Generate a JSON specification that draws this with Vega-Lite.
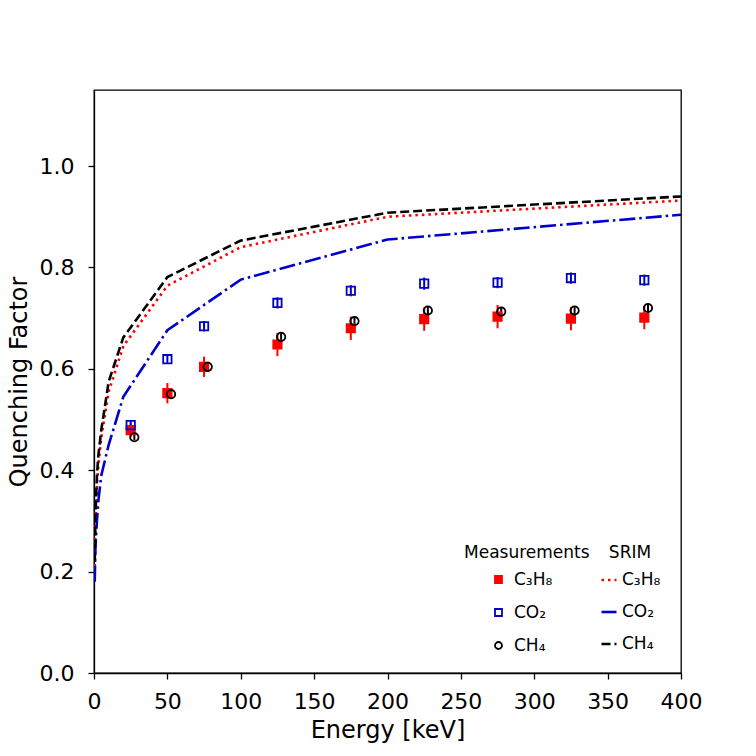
{
  "$schema": "https://vega.github.io/schema/vega-lite/v6.json",
  "width": 587,
  "height": 583,
  "autosize": {"type": "none"},
  "padding": {"left": 94, "top": 90, "right": 75, "bottom": 83},
  "background": "white",
  "config": {
    "font": "DejaVu Sans",
    "view": {"stroke": "#000", "strokeWidth": 1.3},
    "axis": {
      "domainColor": "#000", "domainWidth": 1.3,
      "tickColor": "#000", "tickWidth": 1.3, "tickSize": 6,
      "grid": false,
      "labelFont": "DejaVu Sans", "labelFontSize": 22, "labelColor": "#000",
      "titleFont": "DejaVu Sans", "titleFontSize": 24, "titleFontWeight": "normal", "titleColor": "#000"
    },
    "legend": {
      "titleFont": "DejaVu Sans", "titleFontSize": 17, "titleFontWeight": "normal", "titleColor": "#000",
      "labelFont": "DejaVu Sans", "labelFontSize": 17, "labelColor": "#000"
    }
  },
  "datasets": {
    "srim": [
      {"energy": 0.5, "gas": "C₃H₈", "qf": 0.21},
      {"energy": 1, "gas": "C₃H₈", "qf": 0.29},
      {"energy": 2, "gas": "C₃H₈", "qf": 0.37},
      {"energy": 3, "gas": "C₃H₈", "qf": 0.41},
      {"energy": 5, "gas": "C₃H₈", "qf": 0.465},
      {"energy": 10, "gas": "C₃H₈", "qf": 0.555},
      {"energy": 20, "gas": "C₃H₈", "qf": 0.645},
      {"energy": 50, "gas": "C₃H₈", "qf": 0.764},
      {"energy": 100, "gas": "C₃H₈", "qf": 0.84},
      {"energy": 200, "gas": "C₃H₈", "qf": 0.9},
      {"energy": 400, "gas": "C₃H₈", "qf": 0.932},
      {"energy": 0.5, "gas": "CO₂", "qf": 0.18},
      {"energy": 1, "gas": "CO₂", "qf": 0.25},
      {"energy": 2, "gas": "CO₂", "qf": 0.3},
      {"energy": 3, "gas": "CO₂", "qf": 0.34},
      {"energy": 5, "gas": "CO₂", "qf": 0.39},
      {"energy": 10, "gas": "CO₂", "qf": 0.45},
      {"energy": 20, "gas": "CO₂", "qf": 0.545},
      {"energy": 50, "gas": "CO₂", "qf": 0.676},
      {"energy": 100, "gas": "CO₂", "qf": 0.776},
      {"energy": 200, "gas": "CO₂", "qf": 0.855},
      {"energy": 400, "gas": "CO₂", "qf": 0.904},
      {"energy": 0.5, "gas": "CH₄", "qf": 0.22},
      {"energy": 1, "gas": "CH₄", "qf": 0.31},
      {"energy": 2, "gas": "CH₄", "qf": 0.39},
      {"energy": 3, "gas": "CH₄", "qf": 0.43},
      {"energy": 5, "gas": "CH₄", "qf": 0.48},
      {"energy": 10, "gas": "CH₄", "qf": 0.575},
      {"energy": 20, "gas": "CH₄", "qf": 0.662},
      {"energy": 50, "gas": "CH₄", "qf": 0.781},
      {"energy": 100, "gas": "CH₄", "qf": 0.853},
      {"energy": 200, "gas": "CH₄", "qf": 0.908},
      {"energy": 400, "gas": "CH₄", "qf": 0.94}
    ],
    "meas": [
      {"energy": 25, "gas": "C₃H₈", "qf": 0.479, "lo": 0.465, "hi": 0.493},
      {"energy": 50, "gas": "C₃H₈", "qf": 0.552, "lo": 0.532, "hi": 0.572},
      {"energy": 75, "gas": "C₃H₈", "qf": 0.604, "lo": 0.584, "hi": 0.624},
      {"energy": 125, "gas": "C₃H₈", "qf": 0.648, "lo": 0.625, "hi": 0.671},
      {"energy": 175, "gas": "C₃H₈", "qf": 0.68, "lo": 0.657, "hi": 0.703},
      {"energy": 225, "gas": "C₃H₈", "qf": 0.698, "lo": 0.675, "hi": 0.721},
      {"energy": 275, "gas": "C₃H₈", "qf": 0.703, "lo": 0.68, "hi": 0.726},
      {"energy": 325, "gas": "C₃H₈", "qf": 0.699, "lo": 0.676, "hi": 0.722},
      {"energy": 375, "gas": "C₃H₈", "qf": 0.701, "lo": 0.678, "hi": 0.724},
      {"energy": 25, "gas": "CO₂", "qf": 0.489, "lo": 0.481, "hi": 0.497},
      {"energy": 50, "gas": "CO₂", "qf": 0.619, "lo": 0.61, "hi": 0.628},
      {"energy": 75, "gas": "CO₂", "qf": 0.684, "lo": 0.674, "hi": 0.694},
      {"energy": 125, "gas": "CO₂", "qf": 0.73, "lo": 0.719, "hi": 0.741},
      {"energy": 175, "gas": "CO₂", "qf": 0.754, "lo": 0.743, "hi": 0.765},
      {"energy": 225, "gas": "CO₂", "qf": 0.768, "lo": 0.756, "hi": 0.78},
      {"energy": 275, "gas": "CO₂", "qf": 0.77, "lo": 0.759, "hi": 0.781},
      {"energy": 325, "gas": "CO₂", "qf": 0.779, "lo": 0.768, "hi": 0.79},
      {"energy": 375, "gas": "CO₂", "qf": 0.775, "lo": 0.764, "hi": 0.786},
      {"energy": 27.5, "gas": "CH₄", "qf": 0.465, "lo": 0.459, "hi": 0.471},
      {"energy": 52.5, "gas": "CH₄", "qf": 0.55, "lo": 0.543, "hi": 0.557},
      {"energy": 77.5, "gas": "CH₄", "qf": 0.604, "lo": 0.597, "hi": 0.611},
      {"energy": 127.5, "gas": "CH₄", "qf": 0.663, "lo": 0.655, "hi": 0.671},
      {"energy": 177.5, "gas": "CH₄", "qf": 0.694, "lo": 0.686, "hi": 0.702},
      {"energy": 227.5, "gas": "CH₄", "qf": 0.715, "lo": 0.707, "hi": 0.723},
      {"energy": 277.5, "gas": "CH₄", "qf": 0.713, "lo": 0.705, "hi": 0.721},
      {"energy": 327.5, "gas": "CH₄", "qf": 0.715, "lo": 0.707, "hi": 0.723},
      {"energy": 377.5, "gas": "CH₄", "qf": 0.72, "lo": 0.712, "hi": 0.728}
    ]
  },
  "encoding": {
    "x": {
      "field": "energy", "type": "quantitative",
      "scale": {"domain": [0, 400], "nice": false},
      "axis": {"title": "Energy [keV]", "values": [0, 50, 100, 150, 200, 250, 300, 350, 400], "labelPadding": 12, "titlePadding": 6, "labelFlush": false}
    },
    "y": {
      "field": "qf", "type": "quantitative",
      "scale": {"domain": [0, 1.15], "nice": false, "zero": false},
      "axis": {"title": "Quenching Factor", "values": [0, 0.2, 0.4, 0.6, 0.8, 1.0], "format": ".1f", "labelPadding": 14, "titlePadding": 8, "labelFlush": false}
    }
  },
  "layer": [
    {
      "data": {"name": "srim"},
      "mark": {"type": "line", "strokeWidth": 2.6, "strokeCap": "butt", "clip": true},
      "encoding": {
        "order": {"field": "energy"},
        "color": {
          "field": "gas", "type": "nominal", "sort": "descending",
          "scale": {"range": ["#ff0000", "#0000cc", "#000000"]},
          "legend": {
            "title": "SRIM", "orient": "none", "legendX": 506, "legendY": 455,
            "symbolType": "stroke", "symbolSize": 225, "symbolStrokeWidth": 2.6,
            "titleAnchor": "middle", "titlePadding": 9, "rowPadding": 15, "labelOffset": 4
          }
        },
        "strokeDash": {
          "field": "gas", "type": "nominal", "sort": "descending",
          "scale": {"range": [[2.5, 4], [16, 4, 2.5, 4], [9, 4]]},
          "legend": {
            "title": "SRIM", "orient": "none", "legendX": 506, "legendY": 455,
            "symbolType": "stroke", "symbolSize": 225, "symbolStrokeWidth": 2.6,
            "titleAnchor": "middle", "titlePadding": 9, "rowPadding": 15, "labelOffset": 4
          }
        }
      }
    },
    {
      "data": {"name": "meas"},
      "mark": {"type": "rule", "strokeWidth": 2},
      "encoding": {
        "y": {"field": "lo", "type": "quantitative"},
        "y2": {"field": "hi"},
        "stroke": {
          "condition": [
            {"test": "datum.gas === 'C₃H₈'", "value": "#ff0000"},
            {"test": "datum.gas === 'CO₂'", "value": "#0000cc"}
          ],
          "value": "#000000"
        }
      }
    },
    {
      "data": {"name": "meas"},
      "mark": {"type": "point", "size": 70, "strokeWidth": 1.8, "opacity": 1},
      "encoding": {
        "shape": {
          "field": "gas", "type": "nominal", "sort": "descending",
          "scale": {"range": ["square", "square", "circle"]},
          "legend": {
            "title": "Measurements", "orient": "none", "legendX": 370, "legendY": 455,
            "symbolSize": 49, "symbolStrokeWidth": 1.8, "symbolOffset": 26,
            "titleAnchor": "start", "titlePadding": 9, "rowPadding": 15, "labelOffset": 7
          }
        },
        "stroke": {
          "field": "gas", "type": "nominal", "sort": "descending",
          "scale": {"range": ["#ff0000", "#0000cc", "#000000"]},
          "legend": {
            "title": "Measurements", "orient": "none", "legendX": 370, "legendY": 455,
            "symbolSize": 49, "symbolStrokeWidth": 1.8, "symbolOffset": 26,
            "titleAnchor": "start", "titlePadding": 9, "rowPadding": 15, "labelOffset": 7
          }
        },
        "fill": {
          "field": "gas", "type": "nominal", "sort": "descending",
          "scale": {"range": ["#ff0000", "transparent", "transparent"]},
          "legend": {
            "title": "Measurements", "orient": "none", "legendX": 370, "legendY": 455,
            "symbolSize": 49, "symbolStrokeWidth": 1.8, "symbolOffset": 26,
            "titleAnchor": "start", "titlePadding": 9, "rowPadding": 15, "labelOffset": 7
          }
        }
      }
    }
  ]
}
